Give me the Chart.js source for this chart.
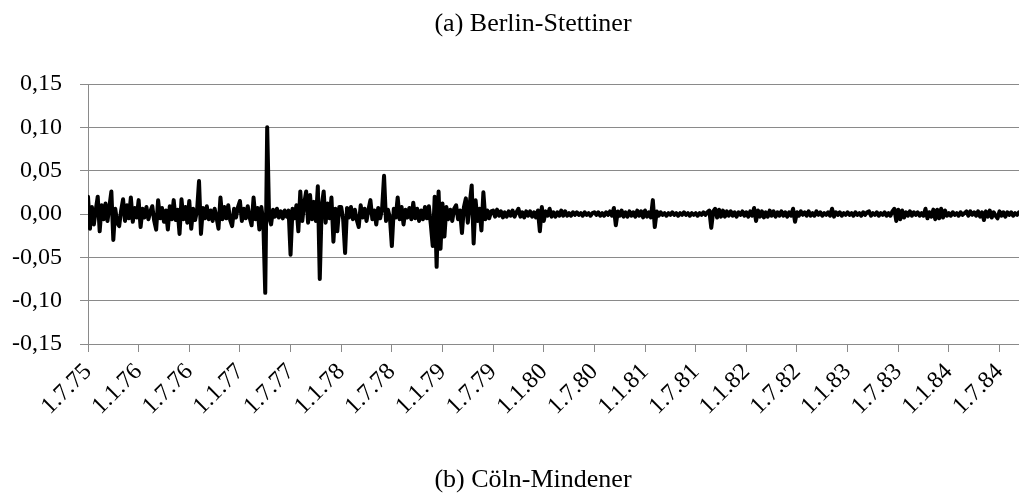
<!DOCTYPE html>
<html>
<head>
<meta charset="utf-8">
<script src="https://cdn.jsdelivr.net/npm/chart.js@4"></script>
<style>
  body { margin: 0; background: #fff; }
  canvas { display: block; }
</style>
</head>
<body>
<canvas id="myChart" width="1019" height="493"></canvas>
<script>
let titleTop = "(a) Berlin-Stettiner";
let titleBottom = "(b) Cöln-Mindener";

// one label per half year, every 26 weeks
let tickLabels = ["1.7.75", "1.1.76", "1.7.76", "1.1.77", "1.7.77", "1.1.78", "1.7.78", "1.1.79", "1.7.79",
    "1.1.80", "1.7.80", "1.1.81", "1.7.81", "1.1.82", "1.7.82", "1.1.83", "1.7.83", "1.1.84", "1.7.84"];
let yTickLabels = ["-0,15", "-0,10", "-0,05", "0,00", "0,05", "0,10", "0,15"];

let returns = [
    // 1.7.75
    .020, -.017, .008, -.012, .005, .020, -.020, .010, -.006, .012, -.008, .009, .026,
    -.030, .006, -.010, -.014, .004, .017, -.008, .010, -.005, .019, -.009, .007, -.004,
    // 1.1.76
    .016, -.015, .006, -.004, .008, -.006, .003, .009, -.008, -.018, .016, -.005, .007,
    -.009, .004, -.018, .009, -.006, .016, -.007, .005, -.023, .017, -.006, .008, -.010,
    // 1.7.76
    .015, -.017, .006, -.007, .004, .038, -.023, .007, -.005, .009, -.006, .004, -.008,
    .006, -.004, -.017, .019, -.006, .008, -.005, .010, -.007, -.014, .006, -.004, .008,
    // 1.1.77
    .015, -.008, .006, -.005, .009, -.004, -.013, .019, -.006, .007, -.018, .008, -.009,
    -.091, .100, -.004, -.012, .005, -.003, .006, -.004, .003, -.005, .004, -.003, .004,
    // 1.7.77
    -.047, .006, -.005, .010, -.020, .026, -.008, .012, .026, -.010, .022, -.006, .014,
    -.008, .032, -.075, .010, .026, -.010, .012, -.005, .019, -.032, .006, -.020, .008,
    // 1.1.78
    .008, -.006, -.045, .007, -.004, .008, -.006, .005, -.007, -.015, .010, -.004, .006,
    -.008, .005, .016, -.006, .004, -.012, .007, -.005, .006, .044, -.008, .005, -.004,
    // 1.7.78
    -.037, .006, -.004, .019, -.006, .008, -.012, .005, -.004, .007, -.006, .013, -.005,
    .006, -.008, .004, -.006, .008, -.005, .009, -.012, -.037, .020, -.061, .026, -.040,
    // 1.1.79
    .012, -.026, .008, -.006, .005, -.008, .006, .010, -.006, .004, -.022, .008, .018,
    -.010, .012, .033, -.034, .016, -.008, .006, -.019, .025, -.006, .004, -.005, .003,
    // 1.7.79
    .004, -.003, .005, -.002, .003, -.004, .002, -.003, .003, -.002, .004, -.003, .002,
    .006, -.003, .002, -.004, .003, -.002, .003, -.003, .002, -.004, .004, -.020, .008,
    // 1.1.80
    -.008, .003, -.002, .006, -.003, .002, -.003, .002, -.002, .004, -.002, .003, -.002,
    .001, -.002, .002, -.001, .002, -.001, .001, -.002, .002, -.001, .001, -.002, .001,
    // 1.7.80
    .002, -.001, .002, -.002, .001, -.002, .002, -.001, .003, -.002, .007, -.013, .003,
    -.002, .004, -.003, .002, -.003, .003, -.002, .002, -.003, .004, -.002, .003, -.004,
    // 1.1.81
    .004, -.003, .002, -.004, .016, -.015, .003, -.002, .002, -.001, .001, -.002, .001,
    -.001, .002, -.001, .001, -.002, .001, -.001, .002, -.001, .001, -.002, .001, -.001,
    // 1.7.81
    .001, -.002, .001, -.001, .002, -.001, .002, .004, -.016, .003, .006, -.004, .005,
    -.003, .004, -.003, .003, -.002, .003, -.002, .002, -.003, .002, -.001, .003, -.002,
    // 1.1.82
    .002, -.003, .003, -.002, .007, -.008, .004, -.003, .003, -.004, .002, -.003, .004,
    -.002, .003, -.003, .002, -.002, .003, -.002, .002, -.003, .002, -.002, .006, -.009,
    // 1.7.82
    .002, -.002, .003, -.001, .002, -.002, .003, -.002, .001, -.002, .003, -.001, .002,
    -.002, .001, -.001, .002, -.002, .006, -.003, .002, -.001, .002, -.002, .001, -.001,
    // 1.1.83
    .002, -.001, .001, -.002, .002, -.001, .001, -.002, .002, -.001, .002, .003, -.002,
    .001, -.001, .002, -.002, .001, -.001, .002, -.002, .001, -.002, .003, .006, -.008,
    // 1.7.83
    .005, -.006, .004, -.004, .002, -.002, .003, -.002, .002, -.001, .002, -.002, .001,
    -.002, .006, -.005, .002, -.003, .005, -.006, .005, -.005, .006, -.004, .004, -.002,
    // 1.1.84
    .001, -.002, .002, -.001, .001, -.002, .002, -.001, .001, .003, -.002, .003, -.001,
    .002, -.002, .003, -.003, .002, -.007, .003, -.003, .004, -.004, .002, -.002, -.005,
    // 1.7.84
    .003, -.002, .002, -.003, .002, -.001, .002, -.002, .001, -.001, .002
];

let weeksPerTick = 26;
let axisColor = "#8a8a8a";
let serif = "'Liberation Serif', 'Times New Roman', serif";

let captions = {
    id: "captions",
    afterDraw(chart) {
        let ctx = chart.ctx;
        ctx.save();
        ctx.fillStyle = "#000";
        ctx.font = "26px " + serif;
        ctx.textAlign = "center";
        ctx.textBaseline = "alphabetic";
        ctx.fillText(titleTop, 533, 31);
        ctx.fillText(titleBottom, 533, 487);
        ctx.restore();
    }
};

let canvas = document.getElementById("myChart");
let chart = new Chart(canvas, {
    type: "line",
    data: {
        datasets: [{
            data: returns.map((v, i) => ({ x: i, y: v })),
            borderColor: "#000",
            borderWidth: 4,
            borderJoinStyle: "round",
            borderCapStyle: "round",
            pointRadius: 0,
            tension: 0,
            fill: false
        }]
    },
    options: {
        responsive: false,
        animation: false,
        layout: { padding: { top: 84, left: 0, right: 0, bottom: 0 } },
        plugins: {
            legend: { display: false },
            tooltip: { enabled: false }
        },
        scales: {
            x: {
                type: "linear",
                min: 0,
                max: returns.length - 1,
                grid: { drawOnChartArea: false, drawTicks: true, tickLength: 8, color: axisColor },
                border: { color: axisColor },
                ticks: {
                    stepSize: weeksPerTick,
                    includeBounds: false,
                    autoSkip: false,
                    minRotation: 45,
                    maxRotation: 45,
                    padding: 6,
                    color: "#000",
                    font: { family: serif, size: 24 },
                    callback: v => tickLabels[v / weeksPerTick] || ""
                },
                afterFit: s => { s.height = 149; s.paddingLeft = 0; s.paddingRight = 0; }
            },
            y: {
                min: -0.15,
                max: 0.15,
                grid: { tickLength: 8, color: axisColor },
                border: { color: axisColor },
                ticks: {
                    stepSize: 0.05,
                    padding: 18,
                    color: "#000",
                    font: { family: serif, size: 24 },
                    callback: (v, i) => yTickLabels[i]
                },
                afterFit: s => { s.width = 88; }
            }
        }
    },
    plugins: [captions]
});
</script>
</body>
</html>
